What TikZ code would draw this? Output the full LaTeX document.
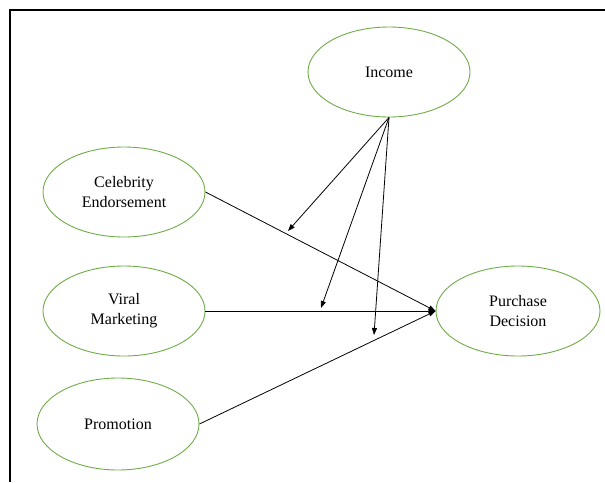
\documentclass[tikz,border=0pt]{standalone}
\usepackage{fontspec}
\setmainfont{Liberation Serif}
\usetikzlibrary{shapes.geometric, arrows.meta}
\definecolor{themeGreen}{RGB}{112, 173, 71}

\begin{document}
\begin{tikzpicture} [
        x=1pt, y=-1pt,
        var/.style={ellipse, draw=themeGreen, line width=0.9pt, minimum width=162pt, minimum height=90pt,
            align=center, inner sep=0pt, font=\fontsize{16}{20}\selectfont},
        link/.style={draw, line width=0.8pt, -{Triangle[length=7pt, width=5pt]}}
    ]
        \useasboundingbox (0, 0) rectangle (605, 482);
        \fill[white] (0, 0) rectangle (605, 482);

        % frame
        \draw[line width=1.6pt] (10, 482) -- (10, 10) -- (605, 10);

        \node [var] (income) at (389, 72) {Income};
        \node [var] (celeb) at (124, 192) {Celebrity\\Endorsement};
        \node [var] (viral) at (124, 311) {Viral\\Marketing};
        \node [var, minimum height=92pt] (promo) at (118, 424) {Promotion};
        \node [var, minimum width=164pt] (purchase) at (518, 311) {Purchase\\Decision};

        % direct effects
        \draw [link] (celeb.east) -- (purchase.west);
        \draw [link] (viral.east) -- (purchase.west);
        \draw [link] (promo.east) -- (purchase.west);

        % moderation by income
        \coordinate (m1) at (288, 231);
        \coordinate (m2) at (321, 308);
        \coordinate (m3) at (374, 335);
        \foreach \m in {m1, m2, m3} {
            \draw [link] (income.south) -- (\m);
        }
    \end{tikzpicture}
\end{document}
